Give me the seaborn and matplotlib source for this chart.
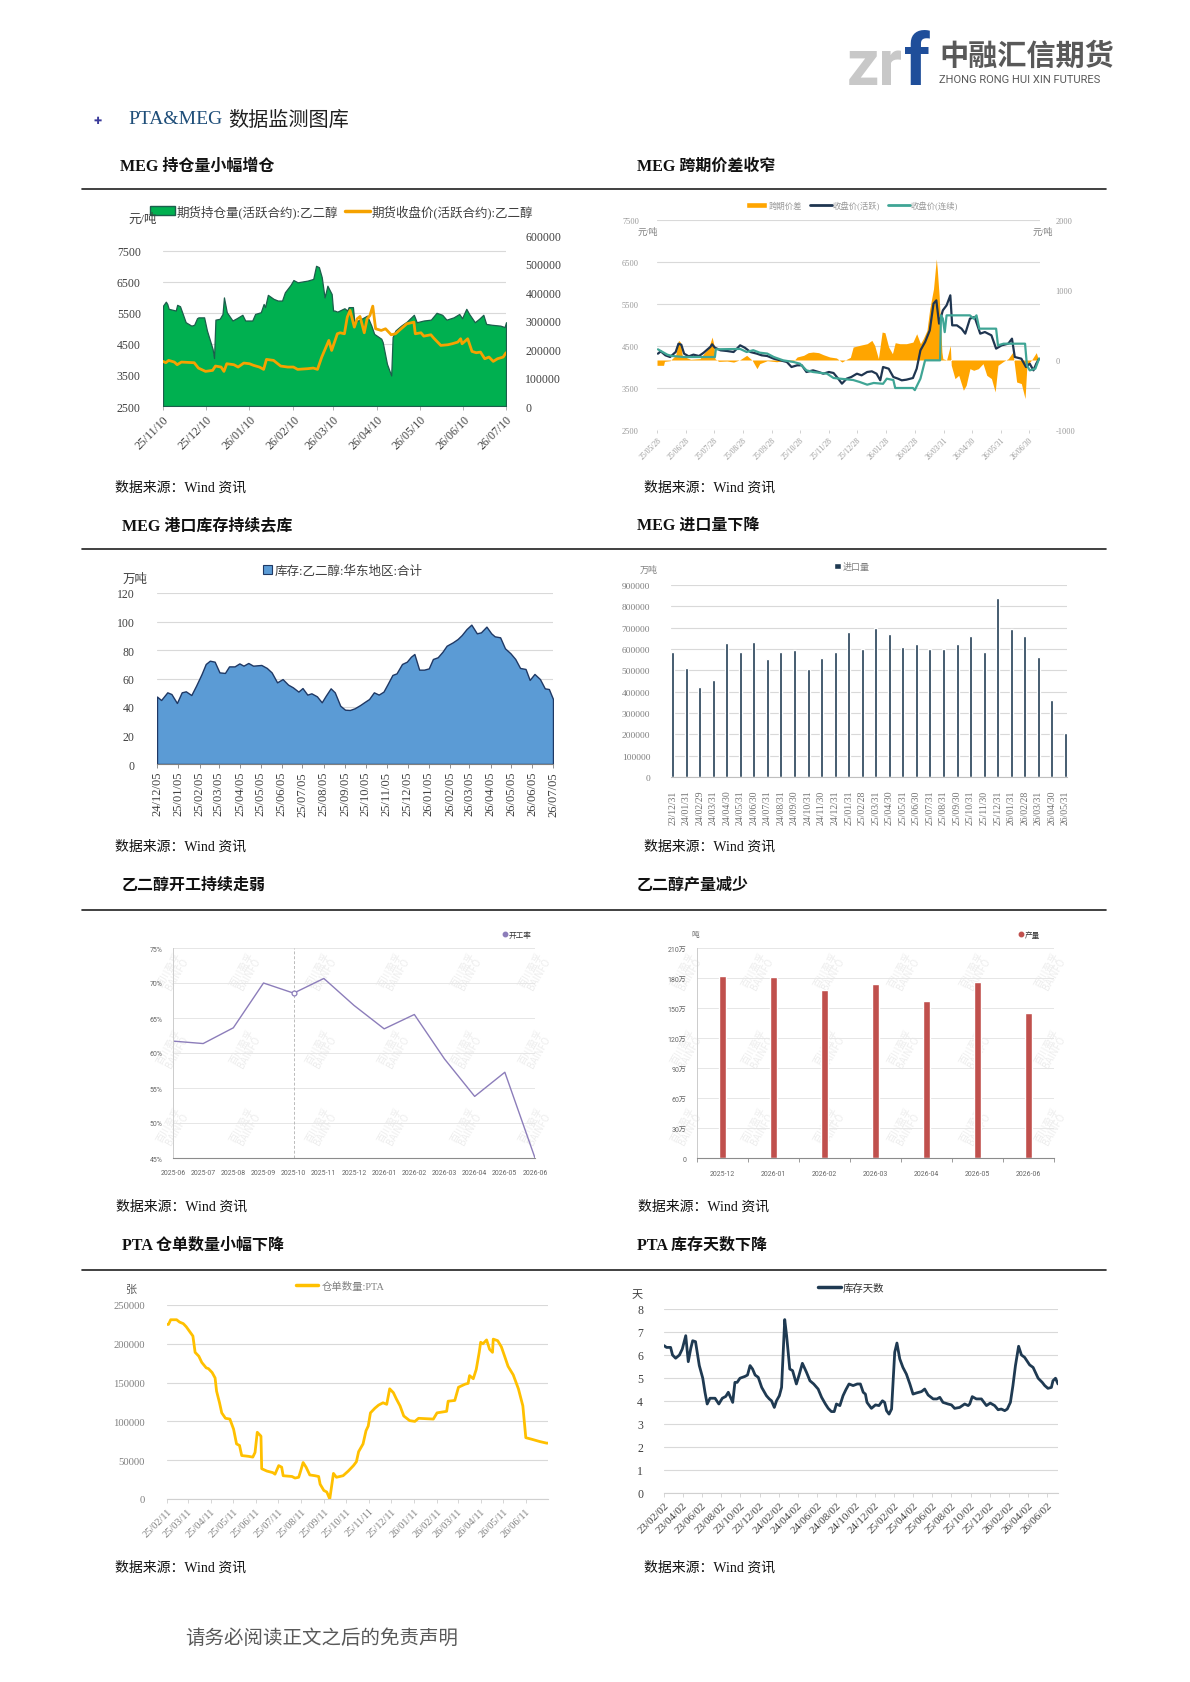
import numpy as np
import pandas as pd
import matplotlib
matplotlib.use("Agg")
import matplotlib.pyplot as plt
from matplotlib.lines import Line2D
from matplotlib.patches import Patch
import seaborn as sns

sns.set_theme(style="white")
SERIF = ["Liberation Serif", "Noto Sans CJK SC"]
CJK = ["Noto Sans CJK SC", "DejaVu Sans"]
SMALL = ["Roboto", "Noto Sans CJK SC"]
plt.rcParams["font.family"] = SERIF
plt.rcParams["axes.unicode_minus"] = False

GRID = "#D9D9D9"

# ---------------- 数据 ----------------
# MEG 持仓量 / 收盘价 (活跃合约), 以 2025-11-10 起算的天数
OI_START = "2025-11-10"
oi_day = [0, 2, 3, 4, 9, 10, 12, 16, 20, 22,
          24, 25, 29, 31, 35, 36, 37, 40, 42, 43,
          45, 49, 52, 56, 58, 63, 65, 69, 71, 72,
          74, 78, 81, 84, 86, 90, 92, 95, 102, 106,
          108, 110, 112, 114, 116, 119, 120, 121, 123, 128,
          130, 131, 134, 135, 140, 144, 147, 149, 154, 155,
          158, 161, 162, 164, 168, 172, 177, 179, 184, 189,
          193, 197, 200, 205, 209, 211, 214, 216, 220, 223,
          226, 228, 232, 238, 241, 242]
oi_val = [352000, 366000, 358000, 341000, 335000, 355000, 350000, 294000, 282000, 285000,
          308000, 311000, 311000, 265000, 200000, 168000, 303000, 306000, 323000, 381000,
          329000, 300000, 308000, 320000, 300000, 300000, 323000, 329000, 358000, 347000,
          390000, 376000, 370000, 370000, 399000, 425000, 442000, 434000, 440000, 446000,
          492000, 487000, 452000, 381000, 422000, 393000, 335000, 335000, 331000, 343000,
          335000, 347000, 347000, 294000, 306000, 317000, 282000, 253000, 236000, 224000,
          148000, 107000, 242000, 265000, 282000, 296000, 320000, 294000, 300000, 303000,
          327000, 320000, 303000, 311000, 323000, 308000, 341000, 323000, 294000, 306000,
          320000, 288000, 285000, 282000, 277000, 294000]
px_day = [0, 2, 4, 8, 10, 13, 22, 25, 30, 35,
          37, 41, 43, 45, 50, 53, 57, 61, 64, 68,
          71, 73, 78, 83, 88, 92, 95, 102, 106, 109,
          112, 117, 119, 123, 125, 128, 130, 132, 135, 137,
          139, 142, 144, 146, 148, 150, 154, 157, 161, 164,
          168, 172, 177, 178, 182, 184, 189, 191, 196, 201,
          204, 208, 210, 211, 215, 218, 221, 224, 227, 230,
          233, 236, 240, 242]
px_val = [3935, 3892, 3967, 3913, 3828, 3913, 3892, 3720, 3613, 3646,
          3785, 3753, 3613, 3860, 3828, 3753, 3881, 3860, 3806, 3753,
          3678, 3999, 3967, 3785, 3753, 3753, 3678, 3700, 3720, 3678,
          4074, 4609, 4288, 4823, 4855, 4823, 5359, 5573, 5037, 5305,
          5380, 4855, 5305, 5412, 5712, 4984, 4930, 4984, 4791, 4823,
          4984, 5144, 5198, 4823, 4855, 4748, 4791, 4684, 4449, 4470,
          4502, 4556, 4663, 4502, 4663, 4256, 4213, 4234, 4020, 4074,
          3935, 4020, 4074, 4213]

# MEG 跨期价差 / 收盘价, 以 2025-05-28 起算的天数
SP_START = "2025-05-28"
sp_day = [0, 7, 8, 14, 20, 23, 25, 27, 30, 36,
          46, 50, 55, 59, 61, 62, 66, 75, 82, 89,
          96, 102, 107, 110, 118, 128, 139, 146, 150, 157,
          162, 167, 173, 178, 185, 192, 198, 203, 207, 210,
          217, 225, 230, 233, 237, 241, 244, 248, 252, 255,
          260, 267, 274, 278, 282, 285, 289, 292, 296, 299,
          300, 302, 305, 306, 310, 314, 315, 319, 323, 328,
          331, 335, 339, 344, 349, 353, 358, 362, 365, 371,
          376, 381, 385, 390, 394, 396, 401, 406, 408]
sp_val = [-76, -76, -20, -10, 67, 280, 256, 67, 43, 10,
          20, 90, 162, 328, 209, 19, -20, -15, -30, 5,
          67, -5, -124, -52, -10, -25, -5, -19, 43, 67,
          105, 114, 105, 76, 43, 29, -29, 10, 38, 185,
          209, 233, 280, 209, 19, 399, 390, 185, 90, 247,
          233, 233, 256, 375, 233, 304, 423, 732, 1017, 1444,
          1302, 922, 114, 19, 0, 209, -76, -266, -219, -432,
          -361, -124, -147, -124, -52, -219, -266, -456, -76, -19,
          19, 114, -314, -337, -551, -76, 0, 105, 19]
act_day = [1, 4, 9, 14, 20, 23, 26, 29, 34, 39,
           45, 50, 57, 59, 62, 68, 75, 82, 89, 94,
           100, 107, 112, 118, 125, 132, 139, 144, 150, 155,
           160, 167, 173, 178, 184, 189, 194, 198, 203, 208,
           214, 219, 225, 230, 235, 239, 242, 248, 253, 258,
           262, 267, 274, 278, 282, 287, 292, 296, 299, 302,
           306, 310, 314, 316, 321, 326, 330, 335, 340, 346,
           351, 358, 363, 369, 376, 380, 383, 390, 395, 399,
           403, 406, 409]
act_val = [4317, 4373, 4278, 4238, 4357, 4555, 4531, 4317, 4254, 4294,
           4262, 4341, 4476, 4540, 4460, 4397, 4381, 4357, 4516, 4460,
           4357, 4317, 4278, 4262, 4198, 4159, 4119, 4000, 4040, 4040,
           3881, 3920, 3881, 3841, 3881, 3857, 3722, 3603, 3722, 3762,
           3841, 3801, 3881, 3897, 3841, 3683, 4000, 3960, 3762, 3722,
           3683, 3698, 3738, 3960, 4397, 4595, 4873, 5508, 5587, 5032,
           5349, 5468, 5706, 4992, 4992, 4913, 4794, 5151, 5190, 4794,
           4833, 4754, 4437, 4516, 4555, 4675, 4238, 4198, 4000, 4079,
           3920, 4079, 4198]
con_day = [1, 5, 11, 16, 29, 62, 63, 89, 96, 103,
           110, 118, 125, 135, 146, 153, 160, 167, 182, 189,
           196, 210, 217, 225, 232, 242, 246, 253, 255, 274,
           276, 282, 287, 303, 304, 306, 308, 310, 335, 339,
           342, 345, 363, 365, 371, 394, 396, 399, 405, 409]
con_val = [4421, 4370, 4294, 4262, 4238, 4238, 4421, 4430, 4357, 4400,
           4341, 4320, 4238, 4159, 4120, 4079, 3920, 3881, 3841, 3738,
           3722, 3690, 3643, 3579, 3620, 3600, 3722, 3690, 3500, 3500,
           3450, 3722, 4159, 4159, 5230, 5150, 4830, 5230, 5230, 5150,
           5230, 4913, 4913, 4516, 4555, 4555, 4040, 3920, 3960, 4198]
sp_ticks = ["2025-05-28", "2025-06-28", "2025-07-28", "2025-08-28", "2025-09-28",
            "2025-10-28", "2025-11-28", "2025-12-28", "2026-01-28", "2026-02-28",
            "2026-03-31", "2026-04-30", "2026-05-31", "2026-06-30"]

# MEG 华东港口库存 (万吨), 以 2024-12-05 起算的天数
INV_START = "2024-12-05"
inv_day = [0, 6, 15, 21, 29, 36, 42, 50, 57, 65,
           71, 77, 84, 91, 99, 105, 113, 120, 126, 133,
           140, 152, 160, 167, 175, 183, 191, 198, 206, 212,
           219, 225, 233, 240, 246, 253, 259, 267, 274, 281,
           288, 296, 303, 309, 316, 323, 330, 336, 343, 349,
           357, 364, 370, 375, 382, 389, 396, 402, 409, 416,
           422, 431, 438, 444, 451, 458, 466, 472, 480, 487,
           492, 500, 507, 515, 522, 529, 537, 543, 550, 558,
           565, 571, 577]
inv_val = [47.3, 44.9, 50.3, 49.1, 42.8, 50.3, 51.0, 48.4, 55.0, 63.2,
           70.2, 72.5, 71.8, 64.3, 63.9, 68.5, 68.5, 70.6, 69.0, 70.9,
           69.0, 69.5, 67.4, 64.3, 57.3, 59.6, 55.7, 53.8, 50.8, 53.3,
           48.7, 49.6, 47.5, 43.3, 48.0, 53.1, 50.3, 40.9, 38.1, 37.9,
           39.1, 41.4, 43.7, 45.6, 50.3, 48.7, 50.8, 56.1, 62.5, 63.6,
           70.2, 71.8, 75.3, 77.2, 66.2, 66.2, 67.1, 73.7, 74.9, 78.8,
           83.0, 85.4, 87.7, 90.5, 94.7, 97.8, 91.7, 92.4, 96.4, 91.7,
           89.6, 88.9, 81.2, 77.7, 73.7, 67.4, 66.7, 59.0, 63.2, 59.6,
           53.1, 52.6, 45.6]

# MEG 进口量
imp_month = ["23/12/31", "24/01/31", "24/02/29", "24/03/31", "24/04/30", "24/05/31",
             "24/06/30", "24/07/31", "24/08/31", "24/09/30", "24/10/31", "24/11/30",
             "24/12/31", "25/01/31", "25/02/28", "25/03/31", "25/04/30", "25/05/31",
             "25/06/30", "25/07/31", "25/08/31", "25/09/30", "25/10/31", "25/11/30",
             "25/12/31", "26/01/31", "26/02/28", "26/03/31", "26/04/30", "26/05/31"]
imp_val = [587000, 513000, 424000, 457000, 629000, 587000, 631000, 551000, 588000, 595000,
           504000, 556000, 585000, 682000, 599000, 698000, 668000, 609000, 623000, 598000,
           598000, 624000, 659000, 588000, 840000, 696000, 660000, 563000, 361000, 206000]

# 乙二醇开工率 (%)
rate_month = ["2025-06", "2025-07", "2025-08", "2025-09", "2025-10", "2025-11", "2025-12",
              "2026-01", "2026-02", "2026-03", "2026-04", "2026-05", "2026-06"]
rate_val = [61.7, 61.35, 63.6, 70.0, 68.55, 70.65, 66.8, 63.45, 65.5, 59.15, 53.8, 57.25, 45.0]

# 乙二醇产量 (吨)
prod_month = ["2025-12", "2026-01", "2026-02", "2026-03", "2026-04", "2026-05", "2026-06"]
prod_val = [1819000, 1809000, 1676000, 1743000, 1569000, 1763000, 1449000]

# PTA 仓单数量 (张), 以 2025-02-11 起算的天数
WR_START = "2025-02-11"
wr_day = [0, 2, 5, 13, 17, 22, 26, 32, 35, 38,
          43, 47, 53, 56, 61, 65, 67, 71, 74, 79,
          85, 90, 94, 98, 101, 110, 116, 119, 122, 127,
          128, 135, 143, 146, 151, 155, 157, 169, 173, 178,
          180, 184, 188, 193, 200, 205, 207, 212, 216, 220,
          225, 229, 238, 245, 252, 256, 259, 265, 269, 272,
          275, 281, 286, 292, 297, 301, 306, 310, 315, 320,
          328, 335, 340, 360, 365, 378, 380, 389, 394, 403,
          407, 409, 414, 418, 422, 424, 427, 432, 436, 440,
          441, 447, 452, 456, 461, 468, 475, 481, 485, 493,
          504, 513, 515]
wr_val = [225000, 225000, 231000, 231000, 228000, 226000, 222000, 214000, 210000, 189000,
          184000, 176000, 169000, 168000, 163000, 156000, 139000, 124000, 111000, 104000,
          103000, 90000, 71000, 69000, 56000, 55000, 54000, 60000, 86000, 81000,
          39000, 36000, 34000, 32000, 43000, 41000, 30000, 29000, 27000, 28000,
          34000, 47000, 41000, 31000, 30000, 29000, 19000, 11000, 9000, 0,
          33000, 28000, 30000, 36000, 43000, 48000, 61000, 71000, 88000, 94000,
          111000, 117000, 121000, 124000, 122000, 142000, 137000, 129000, 120000, 107000,
          101000, 100000, 104000, 103000, 111000, 113000, 126000, 127000, 144000, 148000,
          149000, 159000, 155000, 167000, 189000, 202000, 200000, 205000, 193000, 189000,
          206000, 204000, 196000, 185000, 171000, 160000, 142000, 120000, 79000, 77000,
          74000, 72000, 72000]

# PTA 库存天数, 以 2023-02-02 起算的天数
DAYS_START = "2023-02-02"
st_day = [0, 8, 21, 27, 37, 49, 58, 69, 77, 85,
          91, 100, 112, 123, 130, 137, 146, 162, 174, 185,
          196, 204, 218, 225, 232, 241, 257, 265, 273, 281,
          289, 299, 310, 325, 334, 341, 350, 357, 366, 373,
          383, 389, 399, 408, 420, 428, 439, 452, 463, 475,
          489, 500, 512, 521, 531, 540, 547, 558, 568, 577,
          587, 600, 613, 623, 632, 639, 644, 658, 671, 682,
          693, 700, 706, 714, 722, 732, 739, 748, 758, 769,
          780, 790, 801, 817, 827, 838, 854, 866, 875, 885,
          901, 912, 922, 938, 954, 965, 970, 978, 991, 1007,
          1023, 1035, 1049, 1060, 1070, 1081, 1089, 1099, 1107, 1115,
          1125, 1134, 1144, 1160, 1171, 1187, 1200, 1208, 1218, 1229,
          1234, 1242, 1250]
st_val = [6.41, 6.33, 6.33, 6.0, 5.86, 6.0, 6.26, 6.84, 5.71, 6.29,
          6.62, 6.58, 5.54, 4.99, 4.38, 3.87, 4.12, 4.12, 3.87, 4.12,
          4.2, 4.38, 3.94, 4.81, 4.81, 4.99, 5.07, 5.13, 5.54, 5.39,
          5.13, 5.03, 4.59, 4.23, 4.09, 4.01, 3.72, 4.01, 4.23, 4.59,
          7.54, 6.84, 5.39, 5.32, 4.74, 5.1, 5.64, 5.25, 4.88, 4.74,
          4.52, 4.16, 3.87, 3.68, 3.54, 3.54, 3.87, 3.8, 4.23, 4.49,
          4.74, 4.67, 4.74, 4.74, 4.38, 4.3, 3.94, 3.68, 3.83, 3.8,
          4.01, 3.94, 3.58, 3.43, 3.65, 6.12, 6.52, 5.83, 5.46, 5.17,
          4.74, 4.3, 4.35, 4.41, 4.52, 4.26, 4.09, 4.09, 4.16, 3.94,
          3.87, 3.83, 3.68, 3.72, 3.87, 3.8, 3.87, 4.19, 4.09, 4.09,
          3.8, 3.91, 3.8, 3.62, 3.65, 3.58, 3.65, 3.94, 4.67, 5.54,
          6.38, 6.0, 5.9, 5.57, 5.46, 4.99, 4.81, 4.67, 4.55, 4.59,
          4.88, 4.99, 4.74]

# ---------------- 画布 ----------------
W, H = 1190, 1683
fig = plt.figure(figsize=(W / 100, H / 100), dpi=100)
fig.patch.set_facecolor("white")
renderer = fig.canvas.get_renderer()


def px_axes(x0, y0, x1, y1):
    return fig.add_axes([x0 / W, 1 - y1 / H, (x1 - x0) / W, (y1 - y0) / H])


def ptext(x, y, s, **kw):
    kw.setdefault("va", "center")
    return fig.text(x / W, 1 - y / H, s, **kw)


def right_edge(t):
    # 文本右边界 (像素), dpi=100 时与画布像素一致
    return t.get_window_extent(renderer=renderer).x1


def on_days(start, days):
    return pd.Timestamp(start) + pd.to_timedelta(days, unit="D")


def strip(axes, bottom_color=None):
    for a in axes:
        for s in a.spines.values():
            s.set_visible(False)
        a.set_xlabel("")
        a.set_ylabel("")
    if bottom_color:
        axes[0].spines["bottom"].set_visible(True)
        axes[0].spines["bottom"].set_color(bottom_color)
        axes[0].spines["bottom"].set_linewidth(0.8)


def date_ticks(ax, ticks, rot, size, color):
    ax.set_xticks(ticks)
    labels = [t.strftime("%y/%m/%d") for t in ticks]
    if rot == 90:
        ax.set_xticklabels(labels, rotation=90, ha="center", fontsize=size, color=color)
    else:
        ax.set_xticklabels(labels, rotation=rot, ha="right", rotation_mode="anchor",
                           fontsize=size, color=color)


def watermark(ax, xs, ys):
    for xf in xs:
        for yf in ys:
            ax.text(xf, yf, "百川盈孚\nBAINFO", transform=ax.transAxes, rotation=60,
                    ha="center", va="center", fontsize=7, color="#EDEDED",
                    family=CJK, zorder=0, linespacing=0.9)


# ---------------- 页眉 ----------------
t_zr = ptext(847, 85, "zr", family="Roboto", weight="bold", fontsize=46, color="#C8C8C8",
             va="baseline")
t_f = ptext(right_edge(t_zr) + 1, 85, "f", family="Roboto", weight="bold", fontsize=52,
            color="#1F4E9A", va="baseline")
logo_x = max(939, right_edge(t_f) + 8)
ptext(logo_x, 56, "中融汇信期货", family=CJK, weight="bold", fontsize=21, color="#595959")
ptext(logo_x, 80, "ZHONG RONG HUI XIN FUTURES", family="Roboto", fontsize=8, color="#595959")

ptext(98, 121, "✚", family="DejaVu Sans", fontsize=7, color="#3A3A9A", ha="center")
t_head = ptext(128, 120, "PTA&MEG", fontsize=14, color="#1F4E79")
ptext(right_edge(t_head) + 6, 120, "数据监测图库", family=CJK, fontsize=14.5, color="#202020")

for y in (190, 550, 911, 1271):
    fig.add_artist(Line2D([82 / W, 1106 / W], [1 - y / H, 1 - y / H],
                          transform=fig.transFigure, color="#202020", linewidth=1.2))

titles = [(120, 167, "MEG 持仓量小幅增仓"), (637, 167, "MEG 跨期价差收窄"),
          (122, 526, "MEG 港口库存持续去库"), (637, 526, "MEG 进口量下降"),
          (122, 886, "乙二醇开工持续走弱"), (637, 886, "乙二醇产量减少"),
          (122, 1246, "PTA 仓单数量小幅下降"), (637, 1246, "PTA 库存天数下降")]
for x, y, s in titles:
    ptext(x, y, s, fontsize=11.5, weight="bold", color="#111111")

for x, y in [(115, 488), (644, 488), (115, 847), (644, 847),
             (116, 1207), (638, 1207), (115, 1568), (644, 1568)]:
    ptext(x, y, "数据来源：Wind 资讯", fontsize=10, color="#111111")

ptext(185, 1638, "请务必阅读正文之后的免责声明", family=CJK, fontsize=14, color="#595959")

# ---------------- 图1: MEG 持仓量 ----------------
oi_dates = on_days(OI_START, oi_day)
px_dates = on_days(OI_START, px_day)
ax = px_axes(163, 236, 506, 407)
ax_oi = ax.twinx()
ax_ln = ax.twinx()
ax_oi.fill_between(oi_dates, 0, oi_val, facecolor="#00B050", edgecolor="#1C5E4C", linewidth=0.9)
sns.lineplot(x=px_dates, y=px_val, ax=ax_ln, color="#F5A200", linewidth=2)
ax.set_ylim(2500, 8000)
ax_ln.set_ylim(2500, 8000)
ax_oi.set_ylim(0, 600000)
ax.set_yticks(np.arange(2500, 7501, 1000))
ax_oi.set_yticks(np.arange(0, 600001, 100000))
ax_ln.set_yticks([])
ax.yaxis.grid(True, color=GRID, linewidth=0.8)
ax.set_xlim(oi_dates[0], oi_dates[-1])
date_ticks(ax, pd.date_range("2025-11-10", "2026-07-10", freq=pd.DateOffset(months=1)),
           45, 8.5, "#404040")
strip([ax, ax_oi, ax_ln], "#A6A6A6")
ax.tick_params(axis="x", bottom=True, length=3, width=0.6, color="#A6A6A6", pad=2)
ax.tick_params(axis="y", left=False, labelsize=8.5, labelcolor="#404040", pad=10)
ax_oi.tick_params(axis="y", right=False, labelsize=8.5, labelcolor="#404040", pad=8)
ax_ln.legend([Patch(facecolor="#00B050", edgecolor="#1C5E4C", linewidth=1),
              Line2D([], [], color="#F5A200", linewidth=2.5)],
             ["期货持仓量(活跃合约):乙二醇", "期货收盘价(活跃合约):乙二醇"],
             loc="center", bbox_to_anchor=(0.52, 1.14), ncol=2, frameon=False,
             prop={"family": SERIF, "size": 9}, labelcolor="#404040",
             handlelength=2.0, handletextpad=0.1, columnspacing=0.6, borderaxespad=0)
ptext(128, 220, "元/吨", fontsize=9, color="#404040")

# ---------------- 图2: MEG 跨期价差 ----------------
sp_dates = on_days(SP_START, sp_day)
ax = px_axes(657, 221, 1040, 431)
ax_sp = ax.twinx()
ax_ln = ax.twinx()
ax_sp.fill_between(sp_dates, 0, sp_val, facecolor="#FFA500", linewidth=0)
sns.lineplot(x=on_days(SP_START, act_day), y=act_val, ax=ax_ln, color="#1F3550", linewidth=1.6)
sns.lineplot(x=on_days(SP_START, con_day), y=con_val, ax=ax_ln, color="#3FA595", linewidth=1.6)
ax.set_ylim(2500, 7500)
ax_ln.set_ylim(2500, 7500)
ax_sp.set_ylim(-1000, 2000)
ax.set_yticks(np.arange(2500, 7501, 1000))
ax_sp.set_yticks([-1000, 0, 1000, 2000])
ax_ln.set_yticks([])
ax.yaxis.grid(True, color=GRID, linewidth=0.8)
ax.set_xlim(sp_dates[0], sp_dates[-1] + pd.Timedelta(days=2))
date_ticks(ax, pd.to_datetime(sp_ticks), 45, 5.5, "#999999")
strip([ax, ax_sp, ax_ln])
ax.tick_params(axis="x", bottom=True, length=2, width=0.5, color="#BFBFBF", pad=2)
ax.tick_params(axis="y", left=False, labelsize=6, labelcolor="#999999", pad=7)
ax_sp.tick_params(axis="y", right=False, labelsize=6, labelcolor="#999999", pad=5)
ax_ln.legend([Patch(facecolor="#FFA500"),
              Line2D([], [], color="#1F3550", linewidth=2),
              Line2D([], [], color="#3FA595", linewidth=2)],
             ["跨期价差", "收盘价(活跃)", "收盘价(连续)"],
             loc="center", bbox_to_anchor=(0.509, 1.071), ncol=3, frameon=False,
             prop={"family": SERIF, "size": 6}, labelcolor="#999999",
             handlelength=2.6, handletextpad=0.1, columnspacing=1.0, borderaxespad=0)
ptext(658, 232, "元/吨", fontsize=6.5, color="#808080", ha="right")
ptext(1033, 232, "元/吨", fontsize=6.5, color="#808080", ha="left")

# ---------------- 图3: MEG 港口库存 ----------------
inv_dates = on_days(INV_START, inv_day)
ax = px_axes(157, 594, 553, 765)
ax.fill_between(inv_dates, 0, inv_val, facecolor="#5B9BD5", edgecolor="#1F3864", linewidth=1)
ax.set_ylim(0, 120)
ax.set_yticks(np.arange(0, 121, 20))
ax.yaxis.grid(True, color=GRID, linewidth=0.8)
ax.set_axisbelow(True)
ax.set_xlim(inv_dates[0], inv_dates[-1])
date_ticks(ax, pd.date_range("2024-12-05", "2026-07-05", freq=pd.DateOffset(months=1)),
           90, 9, "#404040")
strip([ax], "#7F7F7F")
ax.tick_params(axis="x", bottom=True, length=3, width=0.6, color="#7F7F7F", pad=2)
ax.tick_params(axis="y", left=False, labelsize=8.5, labelcolor="#404040", pad=10)
ax.legend([Patch(facecolor="#5B9BD5", edgecolor="#1F3864", linewidth=0.8)],
          ["库存:乙二醇:华东地区:合计"], loc="center", bbox_to_anchor=(0.47, 1.129),
          frameon=False, prop={"family": SERIF, "size": 9}, labelcolor="#404040",
          handlelength=0.7, handleheight=0.7, handletextpad=0.2, borderaxespad=0)
ptext(123, 580, "万吨", fontsize=9, color="#404040")

# ---------------- 图4: MEG 进口量 ----------------
ax = px_axes(671, 586, 1067, 778)
sns.barplot(x=imp_month, y=imp_val, ax=ax, color="#1F3A52", width=0.22,
            saturation=1, errorbar=None)
ax.set_xlim(-0.12, len(imp_month) - 0.88)
ax.set_ylim(0, 900000)
ax.set_yticks(np.arange(0, 900001, 100000))
ax.yaxis.grid(True, color=GRID, linewidth=0.8)
ax.set_axisbelow(True)
ax.set_xticks(range(len(imp_month)))
ax.set_xticklabels(imp_month, rotation=90, fontsize=7, color="#6F6F6F")
strip([ax], "#BFBFBF")
ax.tick_params(axis="x", bottom=False, pad=3)
ax.tick_params(axis="y", left=False, labelsize=6.8, labelcolor="#808080", pad=9)
ax.legend([Patch(facecolor="#1F3A52")], ["进口量"], loc="center",
          bbox_to_anchor=(0.457, 1.094), frameon=False,
          prop={"family": SERIF, "size": 6.5}, labelcolor="#808080",
          handlelength=0.7, handleheight=0.7, handletextpad=0.2, borderaxespad=0)
ptext(640, 570, "万吨", fontsize=6.5, color="#808080")

# ---------------- 图5: 乙二醇开工率 ----------------
RATE_C = "#8C7DBA"
ax = px_axes(173, 949, 535, 1159)
watermark(ax, [0.0, 0.2, 0.41, 0.61, 0.81, 1.0], [0.89, 0.52, 0.15])
xs = np.arange(len(rate_month))
sns.lineplot(x=xs, y=rate_val, ax=ax, color=RATE_C, linewidth=1)
hi = rate_month.index("2025-10")
ax.axvline(hi, color="#BBBBBB", linestyle=(0, (3, 2)), linewidth=0.7, zorder=1)
ax.plot([hi], [rate_val[hi]], marker="o", markersize=3.5, markerfacecolor="white",
        markeredgecolor=RATE_C, markeredgewidth=0.9, linestyle="none", zorder=3)
ax.set_xlim(0, len(rate_month) - 1)
ax.set_ylim(45, 75)
ax.set_yticks(np.arange(45, 76, 5))
ax.set_yticklabels([f"{v}%" for v in range(45, 76, 5)])
ax.set_xticks(xs)
ax.set_xticklabels(rate_month)
ax.yaxis.grid(True, color="#E6E6E6", linewidth=0.7)
ax.set_axisbelow(True)
strip([ax], "#8C8C8C")
ax.spines["left"].set_visible(True)
ax.spines["left"].set_color("#CCCCCC")
ax.spines["left"].set_linewidth(0.7)
ax.tick_params(axis="x", bottom=False, labelsize=5, labelcolor="#666666", pad=2)
ax.tick_params(axis="y", left=False, labelsize=5, labelcolor="#666666", pad=1.5)
for lab in ax.get_xticklabels() + ax.get_yticklabels():
    lab.set_family(SMALL)
ax.legend([Line2D([], [], marker="o", linestyle="none", color=RATE_C, markersize=3.2)],
          ["开工率"], loc="lower right", bbox_to_anchor=(1.0, 1.03), frameon=False,
          prop={"family": CJK, "size": 5.5}, labelcolor="#333333",
          handlelength=0.6, handletextpad=0.2, borderaxespad=0)

# ---------------- 图6: 乙二醇产量 ----------------
ax = px_axes(697, 949, 1054, 1159)
watermark(ax, [-0.03, 0.17, 0.37, 0.58, 0.78, 0.99], [0.89, 0.52, 0.15])
sns.barplot(x=prod_month, y=prod_val, ax=ax, color="#C0504D", width=0.12,
            saturation=1, errorbar=None)
ax.set_xlim(-0.5, len(prod_month) - 0.5)
ax.set_ylim(0, 2100000)
ax.set_yticks(np.arange(0, 2100001, 300000))
ax.set_yticklabels(["0"] + [f"{v // 10000}万" for v in range(300000, 2100001, 300000)])
ax.set_xticks(np.arange(-0.5, len(prod_month), 1), minor=True)
ax.yaxis.grid(True, color="#E6E6E6", linewidth=0.7)
ax.set_axisbelow(True)
strip([ax], "#8C8C8C")
ax.spines["left"].set_visible(True)
ax.spines["left"].set_color("#CCCCCC")
ax.spines["left"].set_linewidth(0.7)
ax.tick_params(axis="x", which="minor", bottom=True, length=3, width=0.6, color="#8C8C8C")
ax.tick_params(axis="x", which="major", bottom=False, labelsize=5, labelcolor="#666666", pad=3)
ax.tick_params(axis="y", left=False, labelsize=5, labelcolor="#666666", pad=1.5)
for lab in ax.get_xticklabels() + ax.get_yticklabels():
    lab.set_family(SMALL)
ax.legend([Line2D([], [], marker="o", linestyle="none", color="#C0504D", markersize=3.2)],
          ["产量"], loc="lower right", bbox_to_anchor=(0.97, 1.03), frameon=False,
          prop={"family": CJK, "size": 5.5}, labelcolor="#333333",
          handlelength=0.6, handletextpad=0.2, borderaxespad=0)
ptext(691, 935, "吨", family=CJK, fontsize=5.5, color="#666666")

# ---------------- 图7: PTA 仓单 ----------------
wr_dates = on_days(WR_START, wr_day)
ax = px_axes(167, 1306, 548, 1500)
sns.lineplot(x=wr_dates, y=wr_val, ax=ax, color="#FFC000", linewidth=2)
ax.set_ylim(0, 250000)
ax.set_yticks(np.arange(0, 250001, 50000))
ax.yaxis.grid(True, color=GRID, linewidth=0.8)
ax.set_axisbelow(True)
ax.set_xlim(wr_dates[0], wr_dates[-1])
date_ticks(ax, pd.date_range("2025-02-11", "2026-06-11", freq=pd.DateOffset(months=1)),
           45, 7.5, "#808080")
strip([ax], "#D0D0D0")
ax.tick_params(axis="x", bottom=True, length=3, width=0.6, color="#D0D0D0", pad=2)
ax.tick_params(axis="y", left=False, labelsize=7.7, labelcolor="#808080", pad=10)
ax.legend([Line2D([], [], color="#FFC000", linewidth=2.5)], ["仓单数量:PTA"],
          loc="center", bbox_to_anchor=(0.454, 1.098), frameon=False,
          prop={"family": SERIF, "size": 7.5}, labelcolor="#808080",
          handlelength=2.2, handletextpad=0.3, borderaxespad=0)
ptext(125, 1290, "张", fontsize=8, color="#606060")

# ---------------- 图8: PTA 库存天数 ----------------
st_dates = on_days(DAYS_START, st_day)
ax = px_axes(664, 1310, 1058, 1494)
sns.lineplot(x=st_dates, y=st_val, ax=ax, color="#1F3A52", linewidth=2)
ax.set_ylim(0, 8)
ax.set_yticks(range(0, 9))
ax.yaxis.grid(True, color=GRID, linewidth=0.8)
ax.set_axisbelow(True)
ax.set_xlim(st_dates[0], st_dates[-1])
date_ticks(ax, pd.date_range("2023-02-02", "2026-06-02", freq=pd.DateOffset(months=2)),
           45, 8, "#404040")
strip([ax], "#D0D0D0")
ax.tick_params(axis="x", bottom=True, length=3, width=0.6, color="#D0D0D0", pad=2)
ax.tick_params(axis="y", left=False, labelsize=8.5, labelcolor="#404040", pad=9)
ax.legend([Line2D([], [], color="#1F3A52", linewidth=2.5)], ["库存天数"],
          loc="center", bbox_to_anchor=(0.475, 1.114), frameon=False,
          prop={"family": SERIF, "size": 7.5}, labelcolor="#333333",
          handlelength=2.2, handletextpad=0.1, borderaxespad=0)
ptext(632, 1295, "天", fontsize=8, color="#404040")

fig.savefig("out.png", dpi=100, facecolor="white")
